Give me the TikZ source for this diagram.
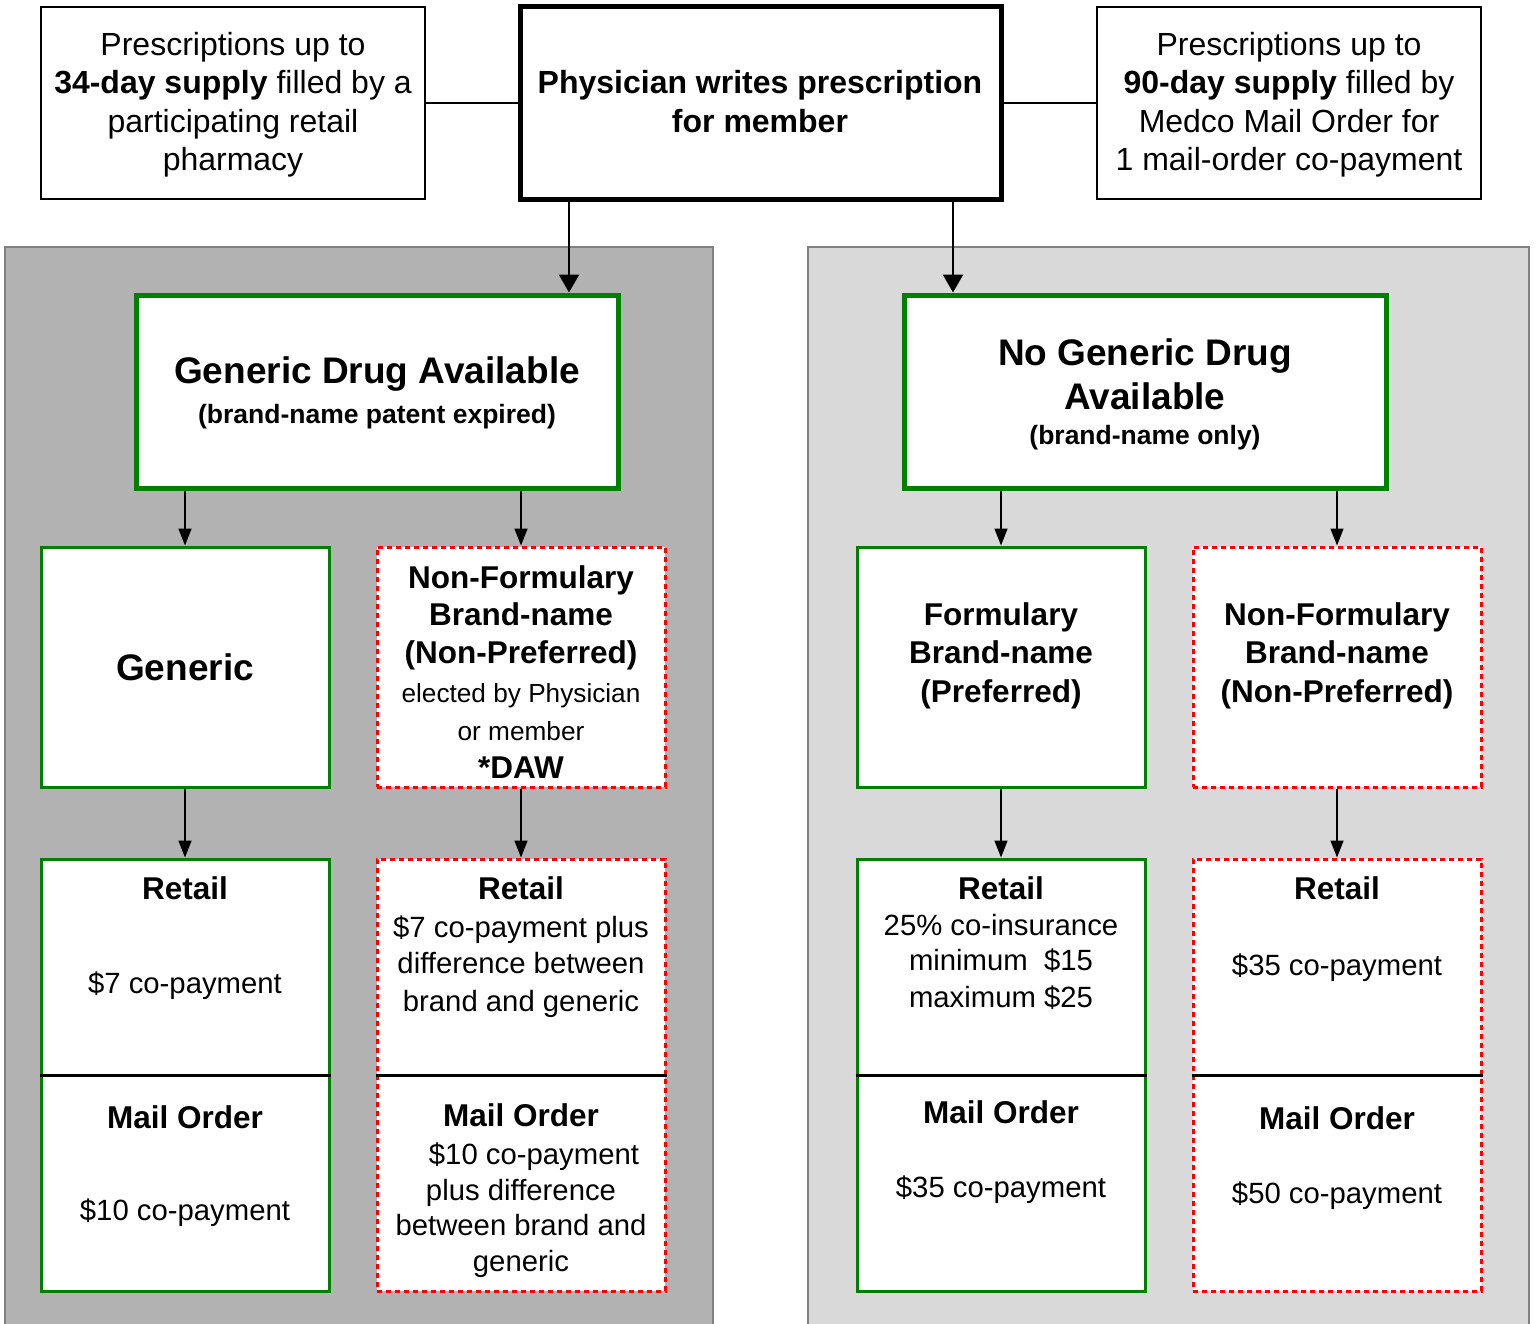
\documentclass[tikz,border=0pt]{standalone}
\usepackage{fontspec}
\setmainfont{Liberation Sans}
\usetikzlibrary{arrows.meta}
\definecolor{gr}{RGB}{0,128,0}
\definecolor{rd}{RGB}{255,0,0}
\definecolor{pdark}{RGB}{178,178,178}
\definecolor{plight}{RGB}{217,217,217}
\definecolor{pedge}{RGB}{128,128,128}
\begin{document}
\begin{tikzpicture}[x=1pt,y=-1pt,
  thinbox/.style={draw=black, line width=2pt, fill=white, inner sep=0pt, minimum width=384pt, minimum height=192pt},
  mainbox/.style={draw=black, line width=5pt, fill=white, inner sep=0pt, minimum width=481pt, minimum height=193pt},
  catbox/.style={draw=gr, line width=5pt, fill=white, inner sep=0pt, minimum width=482pt, minimum height=193pt},
  okbox/.style={draw=gr, line width=3pt, fill=white, inner sep=0pt, minimum width=288pt, minimum height=240pt},
  nobox/.style={draw=rd, line width=3pt, dash pattern=on 5pt off 4pt, fill=white, inner sep=0pt, minimum width=288pt, minimum height=240pt},
  tallbox/.style={minimum height=432pt},
  divider/.style={line width=3pt, draw=black},
  link/.style={line width=2pt, draw=black},
  bigarrow/.style={line width=2.5pt, draw=black, -{Triangle[length=18pt,width=20pt]}},
  smallarrow/.style={line width=1.5pt, draw=black, -{Triangle[length=17pt,width=13pt]}},
  t/.style={inner sep=0pt, anchor=base},
  ft/.style={font=\fontsize{32}{38}\selectfont},
  fb/.style={font=\fontsize{32}{38}\selectfont\bfseries},
  ftitle/.style={font=\fontsize{37}{44}\selectfont\bfseries},
  fsub/.style={font=\fontsize{26.5}{31}\selectfont\bfseries},
  fhead/.style={font=\fontsize{31.5}{38}\selectfont\bfseries},
  fpay/.style={font=\fontsize{29.3}{35}\selectfont},
  fsmall/.style={font=\fontsize{26.2}{31}\selectfont}
]
\clip (0,0) rectangle (1536,1323);
\fill[white] (0,0) rectangle (1536,1323);

% panels
\draw[draw=pedge, fill=pdark, line width=1.5pt] (5,247) rectangle (713,1340);
\draw[draw=pedge, fill=plight, line width=1.5pt] (808,247) rectangle (1529,1340);

% top boxes
\node[thinbox] (tl) at (233,103) {};
\node[mainbox] (tc) at (760.5,103) {};
\node[thinbox] (tr) at (1289,103) {};

% category boxes
\node[catbox] (gda) at (377,391.5) {};
\node[catbox] (ngda) at (1145,391.5) {};

% tier boxes
\node[okbox] (gen) at (185,667) {};
\node[nobox] (nfl) at (521,667) {};
\node[okbox] (form) at (1001,667) {};
\node[nobox] (nfr) at (1337,667) {};

% cost boxes
\node[okbox, tallbox] (rml) at (185,1075) {};
\node[nobox, tallbox] (rmnl) at (521,1075) {};
\node[okbox, tallbox] (rmf) at (1001,1075) {};
\node[nobox, tallbox] (rmnr) at (1337,1075) {};

% dividers
\draw[divider] (rml.west) -- (rml.east);
\draw[divider] (rmnl.west) -- (rmnl.east);
\draw[divider] (rmf.west) -- (rmf.east);
\draw[divider] (rmnr.west) -- (rmnr.east);

% connectors
\draw[link] (tl.east) -- (tc.west);
\draw[link] (tc.east) -- (tr.west);
\draw[bigarrow] (569,0 |- tc.south) -- (569,0 |- gda.north);
\draw[bigarrow] (953,0 |- tc.south) -- (953,0 |- ngda.north);
\draw[smallarrow] (gen.north |- gda.south) -- (gen.north);
\draw[smallarrow] (nfl.north |- gda.south) -- (nfl.north);
\draw[smallarrow] (form.north |- ngda.south) -- (form.north);
\draw[smallarrow] (nfr.north |- ngda.south) -- (nfr.north);
\draw[smallarrow] (gen.south) -- (rml.north);
\draw[smallarrow] (nfl.south) -- (rmnl.north);
\draw[smallarrow] (form.south) -- (rmf.north);
\draw[smallarrow] (nfr.south) -- (rmnr.north);

% texts: top left
\node[t,ft] (tl1) at (233,55) {Prescriptions up to};
\node[t,ft] (tl2) at (233,93) {\textbf{34-day supply} filled by a};
\node[t,ft] (tl3) at (233,132) {participating retail};
\node[t,ft] (tl4) at (233,170) {pharmacy};
% top center
\node[t,fb] (tc1) at (760,93) {Physician writes prescription};
\node[t,fb] (tc2) at (760,132) {for member};
% top right
\node[t,ft] (tr1) at (1289,55) {Prescriptions up to};
\node[t,ft] (tr2) at (1289,93) {\textbf{90-day supply} filled by};
\node[t,ft] (tr3) at (1289,132) {Medco Mail Order for};
\node[t,ft] (tr4) at (1289,170) {1 mail-order co-payment};

% categories
\node[t,ftitle] (g1) at (377,383) {Generic Drug Available};
\node[t,fsub] (g2) at (377,423) {(brand-name patent expired)};
\node[t,ftitle] (n1) at (1145,365) {No Generic Drug};
\node[t,ftitle] (n2) at (1145,409) {Available};
\node[t,fsub] (n3) at (1145,444) {(brand-name only)};

% tiers
\node[t,ftitle] (ge1) at (185,680) {Generic};
\node[t,fhead] (nl1) at (521,588) {Non-Formulary};
\node[t,fhead] (nl2) at (521,625) {Brand-name};
\node[t,fhead] (nl3) at (521,663) {(Non-Preferred)};
\node[t,fsmall] (nl4) at (521,702) {elected by Physician};
\node[t,fsmall] (nl5) at (521,740) {or member};
\node[t,fhead] (nl6) at (521,778) {*DAW};
\node[t,fhead] (fo1) at (1001,625) {Formulary};
\node[t,fhead] (fo2) at (1001,663) {Brand-name};
\node[t,fhead] (fo3) at (1001,702) {(Preferred)};
\node[t,fhead] (nr1) at (1337,625) {Non-Formulary};
\node[t,fhead] (nr2) at (1337,663) {Brand-name};
\node[t,fhead] (nr3) at (1337,702) {(Non-Preferred)};

% costs left green
\node[t,fhead] (c1) at (185,899) {Retail};
\node[t,fpay] (c2) at (185,993) {\$7 co-payment};
\node[t,fhead] (c3) at (185,1128) {Mail Order};
\node[t,fpay] (c4) at (185,1220) {\$10 co-payment};
% costs left red
\node[t,fhead] (d1) at (521,899) {Retail};
\node[t,fpay] (d2) at (521,937) {\$7 co-payment plus};
\node[t,fpay] (d3) at (521,973) {difference between};
\node[t,fpay] (d4) at (521,1011) {brand and generic};
\node[t,fhead] (d5) at (521,1126) {Mail Order};
\node[t,fpay] (d6) at (534,1164) {\$10 co-payment};
\node[t,fpay] (d7) at (521,1200) {plus difference};
\node[t,fpay] (d8) at (521,1235) {between brand and};
\node[t,fpay] (d9) at (521,1271) {generic};
% costs right green
\node[t,fhead] (e1) at (1001,899) {Retail};
\node[t,fpay] (e2) at (1001,935) {25\% co-insurance};
\node[t,fpay] (e3) at (1001,970) {minimum\ \ \$15};
\node[t,fpay] (e4) at (1001,1007) {maximum \$25};
\node[t,fhead] (e5) at (1001,1123) {Mail Order};
\node[t,fpay] (e6) at (1001,1197) {\$35 co-payment};
% costs right red
\node[t,fhead] (h1) at (1337,899) {Retail};
\node[t,fpay] (h2) at (1337,975) {\$35 co-payment};
\node[t,fhead] (h3) at (1337,1129) {Mail Order};
\node[t,fpay] (h4) at (1337,1203) {\$50 co-payment};
\end{tikzpicture}
\end{document}
